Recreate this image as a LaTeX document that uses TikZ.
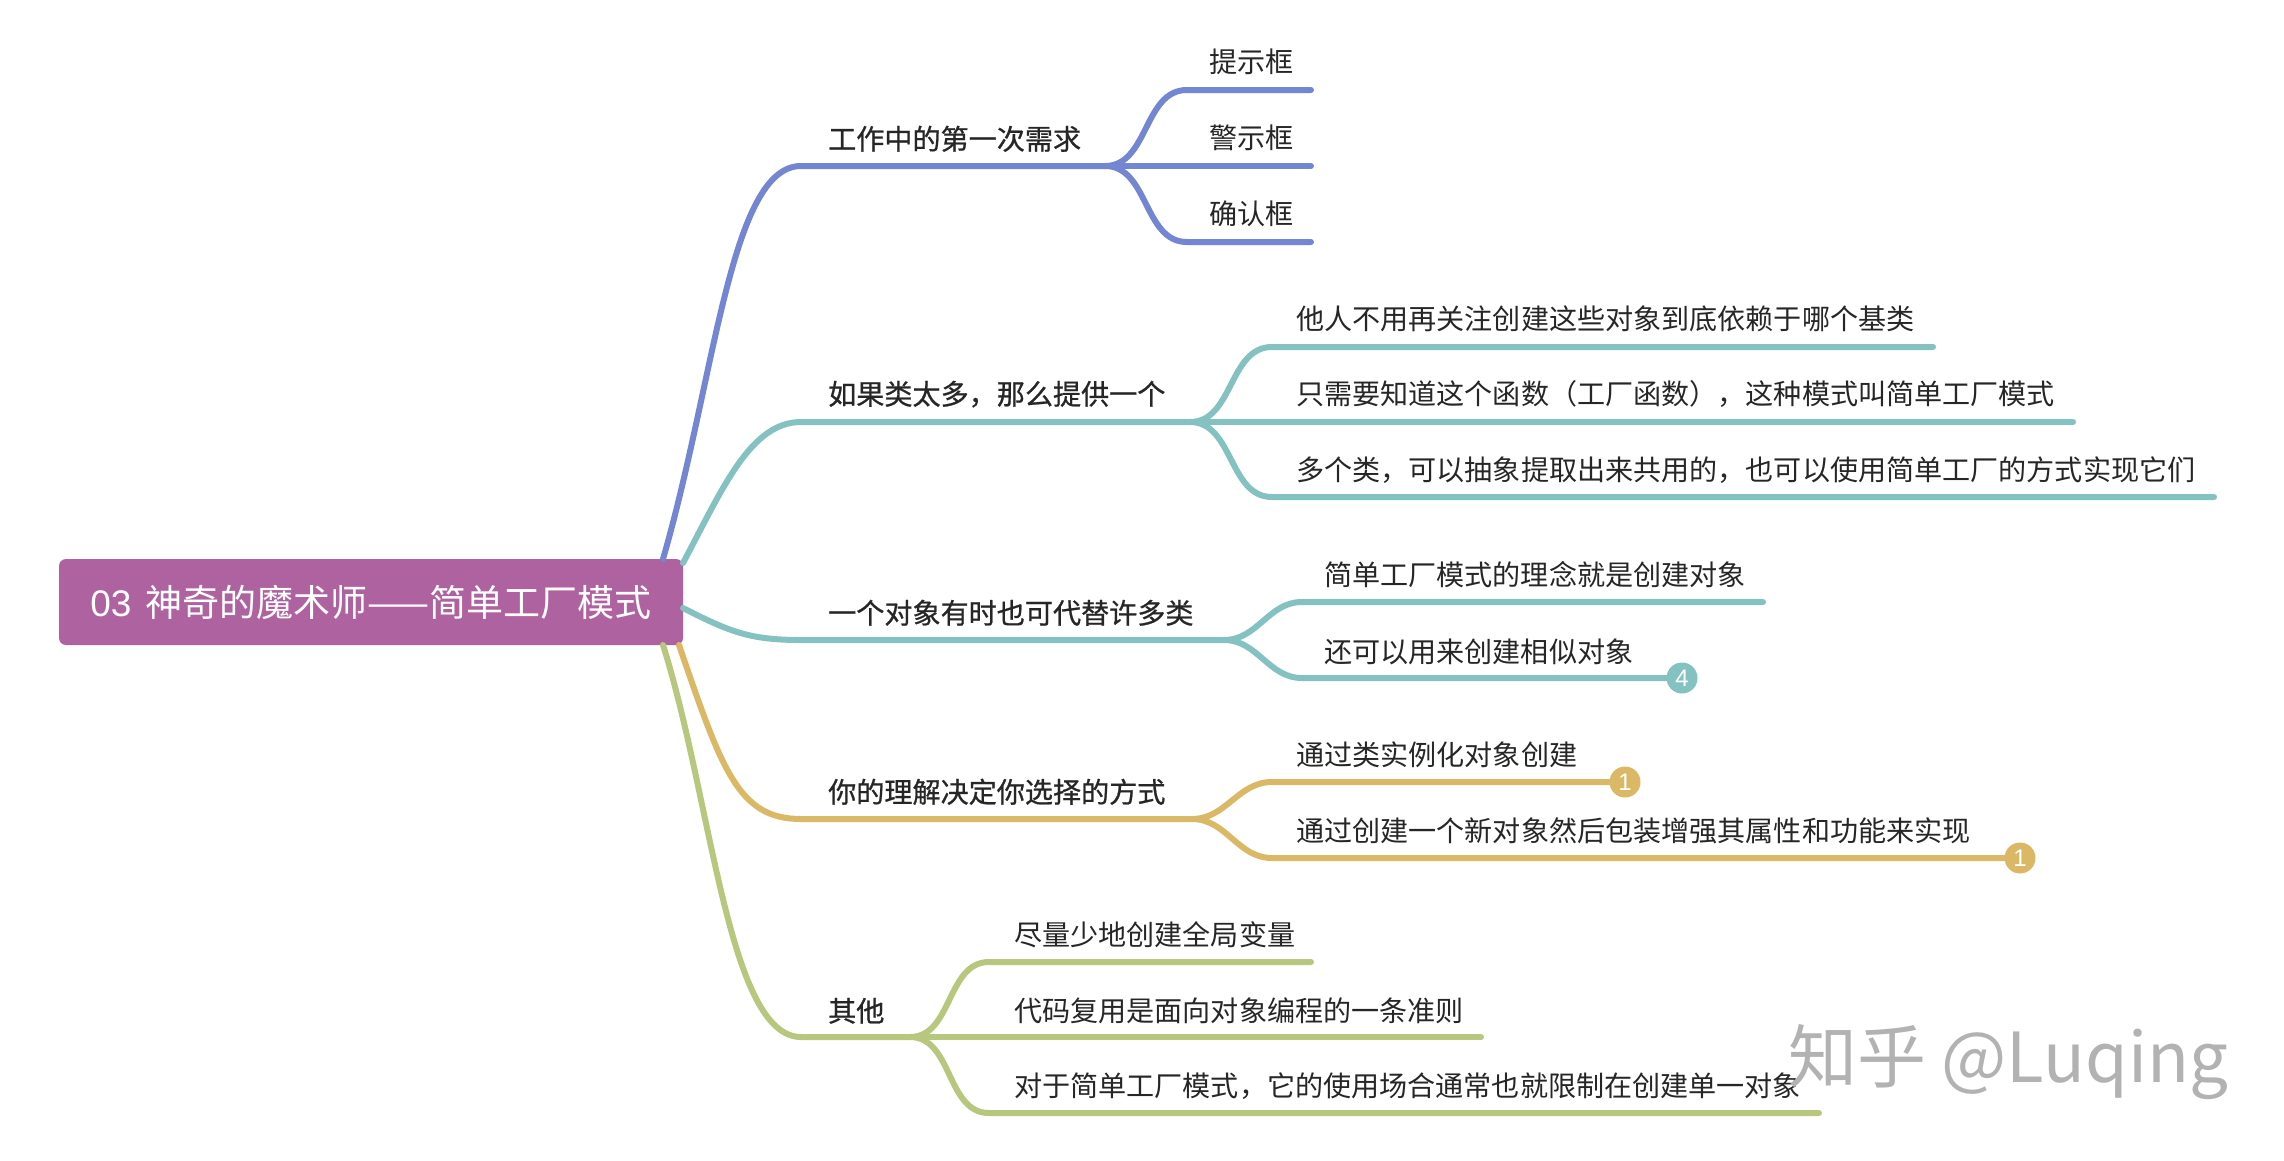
\documentclass[tikz,border=0pt]{standalone}
\usepackage{fontspec}
\setmainfont{Noto Sans CJK SC}
\newfontfamily\cjkbold[FakeBold=0.8]{Noto Sans CJK SC}
\newfontfamily\badgefont{Liberation Sans}
\definecolor{rootpurple}{HTML}{AF62A0}
\definecolor{brblue}{HTML}{7486D2}
\definecolor{brteal}{HTML}{84C1C1}
\definecolor{brgold}{HTML}{DAB866}
\definecolor{brgreen}{HTML}{B8C77E}
\tikzset{
  leaf/.style={anchor=west, inner sep=0pt, text height=25.5pt, text depth=2.5pt, text=black!85, font=\fontsize{28.1}{34}\selectfont},
  topic/.style={leaf, font=\fontsize{28.1}{34}\selectfont\cjkbold},
  root/.style={fill=rootpurple, rounded corners=7pt, minimum width=624pt, minimum height=86pt, inner sep=0pt, text=white, font=\fontsize{37}{42}\selectfont},
  badge/.style={circle, minimum size=31pt, inner sep=0pt, text=white, font=\fontsize{24}{26}\selectfont\badgefont},
  branch/.style={line width=6pt, line cap=round}
}
\begin{document}
\begin{tikzpicture}[x=1pt, y=-1pt]
\useasboundingbox (0,0) rectangle (2284,1160);
\node[root](R) at (371,602) {{\badgefont 03}\hspace{14pt}神奇的魔术师——简单工厂模式};

% first branch
\node[topic](T1) at (828,138) {工作中的第一次需求};
\node[leaf](L11) at (1209,61) {提示框};
\node[leaf](L12) at (1209,137) {警示框};
\node[leaf](L13) at (1209,213) {确认框};
\coordinate(S1) at (663,559);
\coordinate(B1) at (801,166);
\coordinate(F1) at (1105,166);
\coordinate(A11) at (1187,90);
\coordinate(A13) at (1187,242);
\coordinate(E11) at (1311,90);
\coordinate(E12) at (1311,166);
\coordinate(E13) at (1311,242);
\draw[branch, brblue](S1).. controls (715,380) and (730,166) ..(B1)--(F1);
\draw[branch, brblue](F1)to[out=0, in=180](A11)--(E11);
\draw[branch, brblue](F1)--(E12);
\draw[branch, brblue](F1)to[out=0, in=180](A13)--(E13);

% second branch
\node[topic](T2) at (828,393) {如果类太多，那么提供一个};
\node[leaf](L21) at (1296,318) {他人不用再关注创建这些对象到底依赖于哪个基类};
\node[leaf](L22) at (1296,393) {只需要知道这个函数（工厂函数），这种模式叫简单工厂模式};
\node[leaf](L23) at (1296,469) {多个类，可以抽象提取出来共用的，也可以使用简单工厂的方式实现它们};
\coordinate(S2) at (683,563);
\coordinate(B2) at (801,422);
\coordinate(F2) at (1190,422);
\coordinate(A21) at (1272,347);
\coordinate(A23) at (1272,497);
\coordinate(E21) at (1933,347);
\coordinate(E22) at (2073,422);
\coordinate(E23) at (2214,497);
\draw[branch, brteal](S2).. controls (722,490) and (750,422) ..(B2)--(F2);
\draw[branch, brteal](F2)to[out=0, in=180](A21)--(E21);
\draw[branch, brteal](F2)--(E22);
\draw[branch, brteal](F2)to[out=0, in=180](A23)--(E23);

% third branch
\node[topic](T3) at (828,612) {一个对象有时也可代替许多类};
\node[leaf](L31) at (1324,574) {简单工厂模式的理念就是创建对象};
\node[leaf](L32) at (1324,651) {还可以用来创建相似对象};
\node[badge, fill=brteal](N32) at (1682,678) {4};
\coordinate(S3) at (683,608);
\coordinate(B3) at (801,640);
\coordinate(F3) at (1224,640);
\coordinate(A31) at (1302,602);
\coordinate(A32) at (1302,678);
\coordinate(E31) at (1763,602);
\draw[branch, brteal](S3).. controls (730,632) and (750,640) ..(B3)--(F3);
\draw[branch, brteal](F3)to[out=0, in=180](A31)--(E31);
\draw[branch, brteal](F3)to[out=0, in=180](A32)--(N32);

% fourth branch
\node[topic](T4) at (828,791) {你的理解决定你选择的方式};
\node[leaf](L41) at (1296,754) {通过类实例化对象创建};
\node[leaf](L42) at (1296,830) {通过创建一个新对象然后包装增强其属性和功能来实现};
\node[badge, fill=brgold](N41) at (1625,782) {1};
\node[badge, fill=brgold](N42) at (2020,858) {1};
\coordinate(S4) at (679,645);
\coordinate(B4) at (801,819);
\coordinate(F4) at (1192,819);
\coordinate(A41) at (1272,782);
\coordinate(A42) at (1272,858);
\draw[branch, brgold](S4).. controls (722,770) and (738,819) ..(B4)--(F4);
\draw[branch, brgold](F4)to[out=0, in=180](A41)--(N41);
\draw[branch, brgold](F4)to[out=0, in=180](A42)--(N42);

% fifth branch
\node[topic](T5) at (828,1010) {其他};
\node[leaf](L51) at (1014,934) {尽量少地创建全局变量};
\node[leaf](L52) at (1014,1010) {代码复用是面向对象编程的一条准则};
\node[leaf](L53) at (1014,1085) {对于简单工厂模式，它的使用场合通常也就限制在创建单一对象};
\coordinate(S5) at (663,645);
\coordinate(B5) at (801,1037);
\coordinate(F5) at (910,1037);
\coordinate(A51) at (989,962);
\coordinate(A53) at (989,1113);
\coordinate(E51) at (1311,962);
\coordinate(E52) at (1481,1037);
\coordinate(E53) at (1819,1113);
\draw[branch, brgreen](S5).. controls (712,800) and (728,1037) ..(B5)--(F5);
\draw[branch, brgreen](F5)to[out=0, in=180](A51)--(E51);
\draw[branch, brgreen](F5)--(E52);
\draw[branch, brgreen](F5)to[out=0, in=180](A53)--(E53);

% watermark
\node[anchor=west, inner sep=0pt, text=black!30, font=\fontsize{69}{76}\selectfont](W) at (1788,1062) {知乎 @Luqing};
\end{tikzpicture}
\end{document}
